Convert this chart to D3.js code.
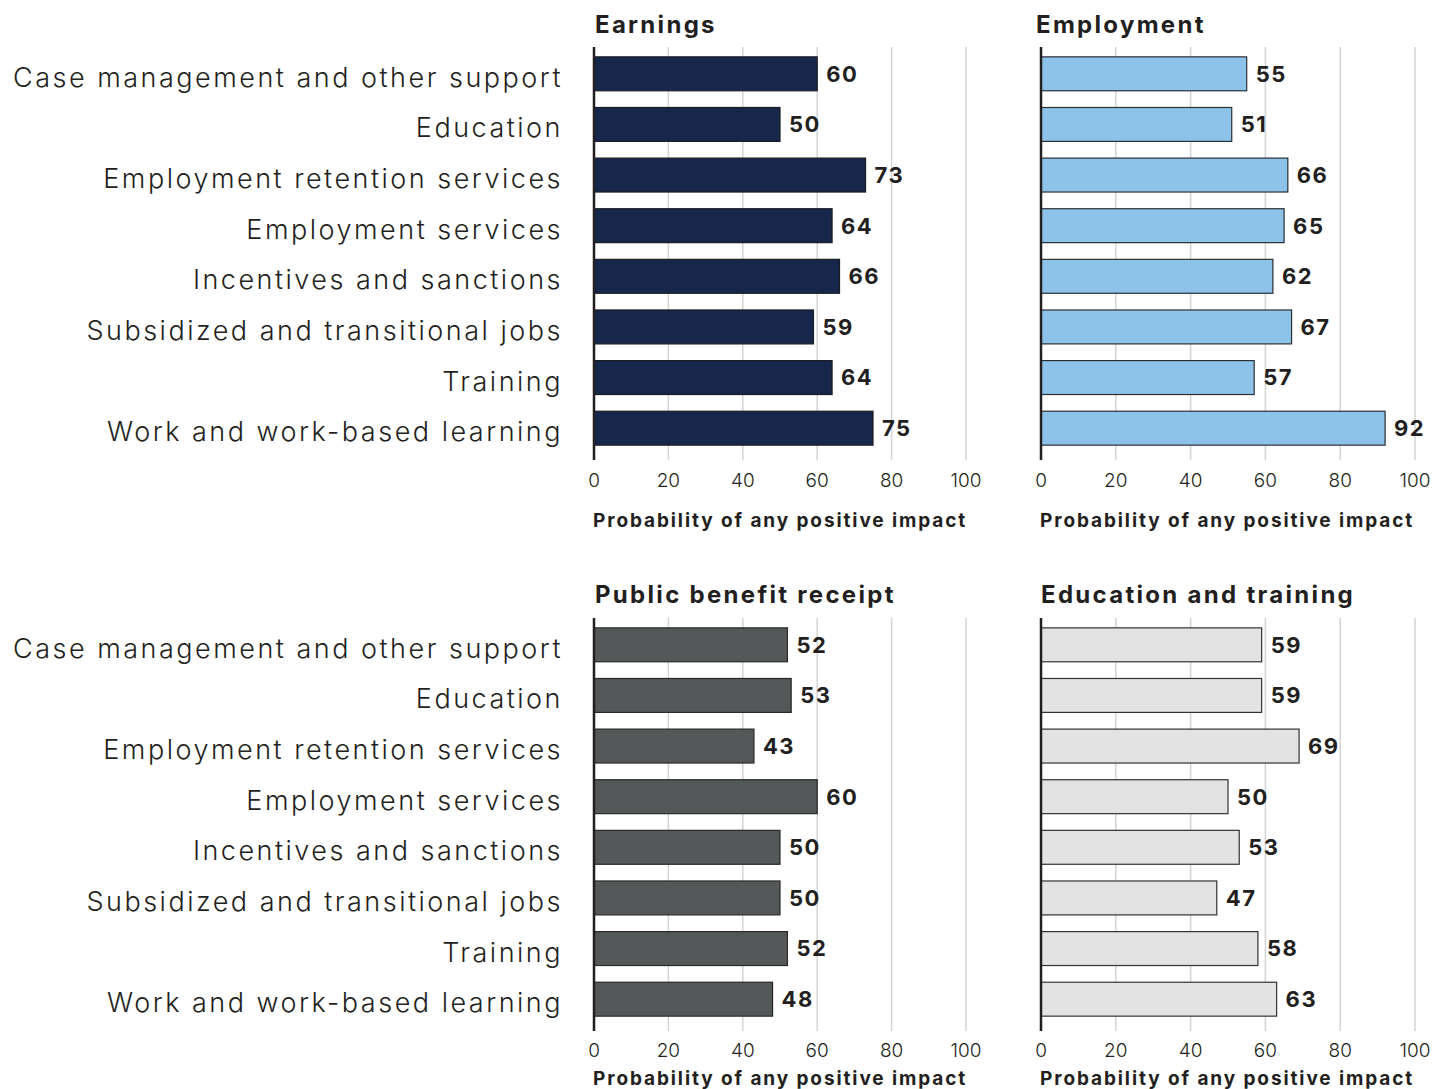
<!DOCTYPE html>
<html>
<head>
<meta charset="utf-8">
<script src="https://cdn.jsdelivr.net/npm/d3@7"></script>
<style>
  html, body { margin: 0; padding: 0; background: #fff; }
  svg { display: block; }
  text { fill: #231f20; font-family: Inter, "Open Sans", sans-serif; }
</style>
</head>
<body>
<svg id="chart" width="1449" height="1089"></svg>
<script>
// Intervention categories (shared by all four panels)
const categories = [
  "Case management and other support",
  "Education",
  "Employment retention services",
  "Employment services",
  "Incentives and sanctions",
  "Subsidized and transitional jobs",
  "Training",
  "Work and work-based learning"
];

// Probability of any positive impact, by outcome
const earnings          = [60, 50, 73, 64, 66, 59, 64, 75];
const employment        = [55, 51, 66, 65, 62, 67, 57, 92];
const publicBenefit     = [52, 53, 43, 60, 50, 50, 52, 48];
const educationTraining = [59, 59, 69, 50, 53, 47, 58, 63];

const panelTitles = ["Earnings", "Employment", "Public benefit receipt", "Education and training"];
const xTicks = [0, 20, 40, 60, 80, 100];
const axisTitle = "Probability of any positive impact";

const svg = d3.select("#chart");

const columns = [
  { x0: 594, x1: 966 },
  { x0: 1041, x1: 1415 }
];
const rows = [
  { top: 47, bottom: 460, titleY: 33, tickY: 487, axisTitleY: 527 },
  { top: 618, bottom: 1031, titleY: 603, tickY: 1057, axisTitleY: 1085 }
];

const panels = [
  { title: panelTitles[0], values: earnings,          col: 0, row: 0, fill: "#16274b", stroke: "#1c1c24", titleDx: 1 },
  { title: panelTitles[1], values: employment,        col: 1, row: 0, fill: "#8dc3e9", stroke: "#2b2f36", titleDx: -5 },
  { title: panelTitles[2], values: publicBenefit,     col: 0, row: 1, fill: "#545858", stroke: "#2a2a2a", titleDx: 1 },
  { title: panelTitles[3], values: educationTraining, col: 1, row: 1, fill: "#e3e3e3", stroke: "#333333", titleDx: 0 }
];

panels.forEach(p => {
  const c = columns[p.col], r = rows[p.row];
  const x = d3.scaleLinear().domain([0, 100]).range([c.x0, c.x1]);
  const y = d3.scaleBand().domain(categories)
    .range([r.top + 1.5, r.bottom - 6.5])
    .paddingInner(0.33).paddingOuter(0.165);

  const g = svg.append("g");

  // vertical gridlines
  g.selectAll("line.grid").data(xTicks.filter(t => t > 0)).join("line")
    .attr("class", "grid")
    .attr("x1", d => x(d)).attr("x2", d => x(d))
    .attr("y1", r.top).attr("y2", r.bottom)
    .attr("stroke", "#d3d3d3").attr("stroke-width", 1.5);

  // bars
  g.selectAll("rect.bar").data(p.values).join("rect")
    .attr("class", "bar")
    .attr("x", x(0))
    .attr("y", (d, i) => y(categories[i]))
    .attr("width", d => x(d) - x(0))
    .attr("height", y.bandwidth())
    .attr("fill", p.fill)
    .attr("stroke", p.stroke)
    .attr("stroke-width", 1.2);

  // value labels
  g.selectAll("text.val").data(p.values).join("text")
    .attr("class", "val")
    .attr("x", d => x(d) + 9)
    .attr("y", (d, i) => y(categories[i]) + y.bandwidth() / 2)
    .attr("dy", "0.36em")
    .attr("font-size", 22)
    .attr("font-weight", 700)
    .attr("letter-spacing", 1.5)
    .text(d => d);

  // baseline axis line
  g.append("line")
    .attr("x1", x(0)).attr("x2", x(0))
    .attr("y1", r.top).attr("y2", r.bottom)
    .attr("stroke", "#231f20").attr("stroke-width", 2.5);

  // tick labels
  g.selectAll("text.tick").data(xTicks).join("text")
    .attr("class", "tick")
    .attr("x", d => x(d))
    .attr("y", r.tickY)
    .attr("text-anchor", "middle")
    .attr("font-size", 19)
    .attr("font-weight", 300)
    .text(d => d);

  // axis title
  g.append("text")
    .attr("x", x(0) - 1)
    .attr("y", r.axisTitleY)
    .attr("font-size", 19)
    .attr("font-weight", 700)
    .attr("letter-spacing", 1.9)
    .text(axisTitle);

  // panel title
  g.append("text")
    .attr("x", x(0) + p.titleDx)
    .attr("y", r.titleY)
    .attr("font-size", 24)
    .attr("font-weight", 700)
    .attr("letter-spacing", 2.3)
    .text(p.title);

  // category labels on the left column only
  if (p.col === 0) {
    g.selectAll("text.cat").data(categories).join("text")
      .attr("class", "cat")
      .attr("x", 563)
      .attr("y", d => y(d) + y.bandwidth() / 2 + 13)
      .attr("text-anchor", "end")
      .attr("font-size", 27)
      .attr("font-weight", 300)
      .attr("letter-spacing", 2.5)
      .text(d => d);
  }
});
</script>
</body>
</html>
